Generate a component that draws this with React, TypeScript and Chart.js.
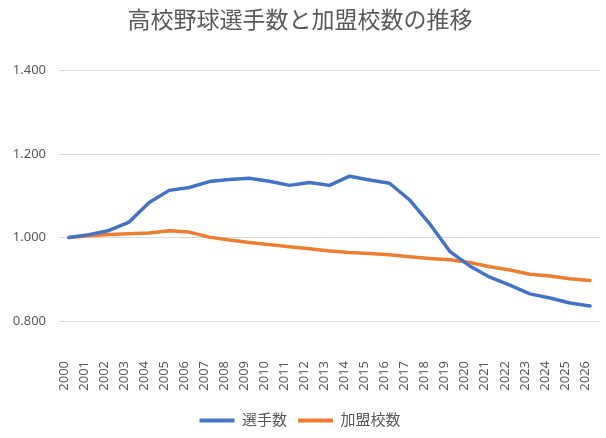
import React, { useRef, useEffect } from 'react';
import { Chart, registerables } from 'chart.js';

Chart.register(...registerables);

const years = [
  '2000', '2001', '2002', '2003', '2004', '2005', '2006', '2007', '2008', '2009',
  '2010', '2011', '2012', '2013', '2014', '2015', '2016', '2017', '2018', '2019',
  '2020', '2021', '2022', '2023', '2024', '2025', '2026',
];

// 選手数 (2000 = 1.000)
const players = [
  1.000, 1.007, 1.017, 1.037, 1.084, 1.113, 1.120, 1.134, 1.139, 1.142,
  1.135, 1.125, 1.132, 1.125, 1.147, 1.138, 1.130, 1.090, 1.033, 0.967,
  0.932, 0.905, 0.886, 0.865, 0.855, 0.843, 0.836,
];

// 加盟校数 (2000 = 1.000)
const schools = [
  1.000, 1.004, 1.007, 1.009, 1.011, 1.016, 1.013, 1.001, 0.994, 0.988,
  0.983, 0.978, 0.973, 0.968, 0.964, 0.962, 0.959, 0.954, 0.950, 0.947,
  0.940, 0.930, 0.922, 0.912, 0.908, 0.901, 0.897,
];

const yTicks = [0.8, 1.0, 1.2, 1.4];

const BLUE = '#4472C4';
const ORANGE = '#ED7D31';
const GREY = '#595959';
const FONT = '"Noto Sans", "Noto Sans CJK JP", sans-serif';

export default function App() {
  const ref = useRef<HTMLCanvasElement>(null);

  useEffect(() => {
    document.body.style.margin = '0';
    const canvas = ref.current;
    if (!canvas) return;

    const chart = new Chart(canvas, {
      type: 'line',
      data: {
        labels: years,
        datasets: [
          {
            label: '選手数',
            data: players,
            borderColor: BLUE,
            backgroundColor: BLUE,
            borderWidth: 3.5,
            pointRadius: 0,
            tension: 0,
            borderJoinStyle: 'round',
            borderCapStyle: 'round',
          },
          {
            label: '加盟校数',
            data: schools,
            borderColor: ORANGE,
            backgroundColor: ORANGE,
            borderWidth: 3.5,
            pointRadius: 0,
            tension: 0,
            borderJoinStyle: 'round',
            borderCapStyle: 'round',
          },
        ],
      },
      options: {
        responsive: false,
        animation: false,
        layout: { padding: { left: 0, right: 6, top: 0, bottom: 0 } },
        plugins: {
          title: {
            display: true,
            text: '高校野球選手数と加盟校数の推移',
            color: GREY,
            font: { family: FONT, size: 23, weight: 'normal' },
            padding: { top: 8, bottom: 35 },
          },
          legend: {
            position: 'bottom',
            labels: {
              color: GREY,
              font: { family: FONT, size: 15 },
              boxWidth: 35,
              boxHeight: 4,
              padding: 11,
              generateLabels(chart) {
                return Chart.defaults.plugins.legend.labels
                  .generateLabels(chart)
                  .map((l) => ({ ...l, lineWidth: 0 }));
              },
            },
          },
          tooltip: { enabled: false },
        },
        scales: {
          x: {
            offset: true,
            grid: { display: false },
            border: { display: false },
            ticks: {
              color: GREY,
              font: { family: FONT, size: 13 },
              minRotation: 90,
              maxRotation: 90,
              padding: 32,
              labelOffset: -5,
              autoSkip: false,
            },
            afterFit(scale) {
              scale.height = 81;
              scale.paddingLeft = 0;
              scale.paddingRight = 0;
            },
          },
          y: {
            min: 0.8,
            max: 1.4,
            afterBuildTicks(scale) {
              scale.ticks = yTicks.map((v) => ({ value: v }));
            },
            grid: { color: '#D9D9D9', drawTicks: false, lineWidth: 1 },
            border: { display: false },
            ticks: {
              color: GREY,
              font: { family: FONT, size: 13 },
              padding: 13,
              callback: (v) => Number(v).toFixed(3),
            },
            afterFit(scale) {
              scale.width = 59;
            },
          },
        },
      },
    });

    return () => { chart.destroy(); };
  }, []);

  return <canvas ref={ref} width={606} height={438} style={{ display: 'block' }} />;
}
